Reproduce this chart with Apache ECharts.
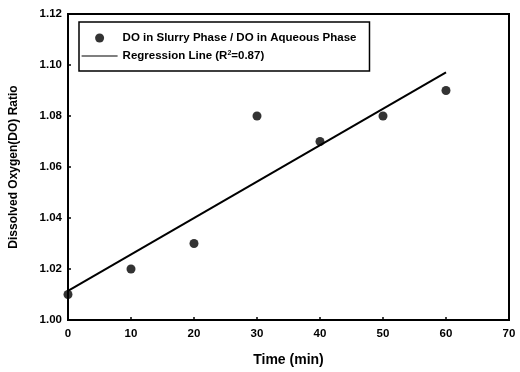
<!DOCTYPE html>
<html><head><meta charset="utf-8">
<script src="https://cdn.jsdelivr.net/npm/echarts@6/dist/echarts.min.js"></script>
<style>html,body{margin:0;padding:0;background:#fff}#c{width:520px;height:372px}</style>
</head><body><div id="c"></div>
<script>
var timeMin = [0, 10, 20, 30, 40, 50, 60];
var doRatio = [1.01, 1.02, 1.03, 1.08, 1.07, 1.08, 1.09];
var regX = [0, 60];
var regY = [1.0114, 1.0971];
var xTicks = {min: 0, max: 70, interval: 10};
var yTicks = {min: 1.00, max: 1.12, interval: 0.02};
var seriesNames = ['DO in Slurry Phase / DO in Aqueous Phase', 'Regression Line (R2=0.87)'];

var chart = echarts.init(document.getElementById('c'), null, {renderer: 'canvas'});
var F = 'Liberation Sans, Arial, sans-serif';
chart.setOption({
  animation: false,
  backgroundColor: '#fff',
  grid: {left: 66, right: 11, top: 14, bottom: 51, show: true, borderColor: '#000', borderWidth: 2, backgroundColor: 'transparent'},
  legend: {
    orient: 'vertical', left: 79, top: 22,
    padding: [10, 13, 9, 2], itemGap: 6, itemWidth: 36, itemHeight: 9,
    borderColor: '#000', borderWidth: 1.5, borderRadius: 0,
    data: [
      {name: seriesNames[0], icon: 'circle'},
      {name: seriesNames[1], itemStyle: {color: 'rgba(0,0,0,0)', borderWidth: 0, opacity: 0}, lineStyle: {color: '#000', width: 1.2}}
    ],
    formatter: function (n) { return n.replace('R2', 'R{sup|2}'); },
    textStyle: {fontFamily: F, fontWeight: 'bold', fontSize: 11.5, color: '#000', lineHeight: 12,
      rich: {sup: {fontFamily: F, fontWeight: 'bold', fontSize: 7, color: '#000', verticalAlign: 'top', padding: [0, 0, 4, 0]}}}
  },
  xAxis: {
    type: 'value', min: xTicks.min, max: xTicks.max, interval: xTicks.interval,
    name: 'Time (min)', nameLocation: 'middle', nameGap: 33,
    nameTextStyle: {fontFamily: F, fontWeight: 'bold', fontSize: 14, color: '#000'},
    axisLine: {show: true, lineStyle: {color: '#000', width: 2}},
    axisTick: {show: true, inside: true, length: 3, lineStyle: {color: '#000', width: 1.5}},
    axisLabel: {fontFamily: F, fontWeight: 'bold', fontSize: 11.5, color: '#000', margin: 8},
    splitLine: {show: false}
  },
  yAxis: {
    type: 'value', min: yTicks.min, max: yTicks.max, interval: yTicks.interval,
    name: 'Dissolved Oxygen(DO) Ratio', nameLocation: 'middle', nameGap: 48,
    nameTextStyle: {fontFamily: F, fontWeight: 'bold', fontSize: 12, color: '#000'},
    axisLine: {show: true, lineStyle: {color: '#000', width: 2}},
    axisTick: {show: true, inside: true, length: 3, lineStyle: {color: '#000', width: 1.5}},
    axisLabel: {fontFamily: F, fontWeight: 'bold', fontSize: 11.5, color: '#000', margin: 6,
      formatter: function (v) { return v.toFixed(2); }},
    splitLine: {show: false}
  },
  series: [
    {name: seriesNames[0], type: 'scatter', symbol: 'circle', symbolSize: 9,
      itemStyle: {color: '#000'}, z: 3,
      data: timeMin.map(function (t, i) { return [t, doRatio[i]]; })},
    {name: seriesNames[1], type: 'line', showSymbol: false, symbol: 'none',
      lineStyle: {color: '#000', width: 2}, itemStyle: {color: '#000'}, z: 2,
      data: regX.map(function (t, i) { return [t, regY[i]]; })}
  ]
});
</script></body></html>
